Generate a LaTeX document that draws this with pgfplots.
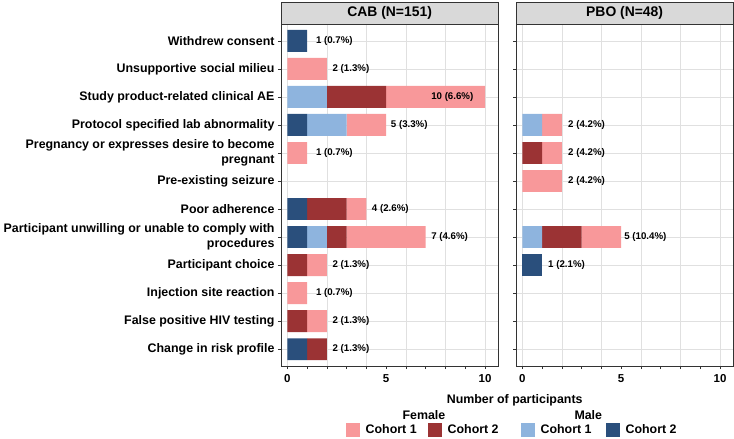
\documentclass[border=0pt]{standalone}
\usepackage{pgfplots}
\usepackage{pgfplotstable}
\pgfplotsset{compat=1.18}
\usepackage{fontspec}
\setmainfont{Liberation Sans}

\definecolor{fcone}{RGB}{248,152,154}
\definecolor{fctwo}{RGB}{155,51,52}
\definecolor{mcone}{RGB}{142,180,222}
\definecolor{mctwo}{RGB}{42,79,124}
\definecolor{framec}{RGB}{51,51,51}
\definecolor{gridc}{RGB}{224,224,224}
\definecolor{stripc}{RGB}{217,217,217}

\newcommand\catfont{\bfseries\fontsize{12.4}{15}\selectfont}
\newcommand\tickfont{\bfseries\fontsize{11.5}{13}\selectfont}
\newcommand\labfont{\bfseries\fontsize{9.7}{11}\selectfont}
\newcommand\stripfont{\bfseries\fontsize{13.9}{16}\selectfont}

% y: 12 = Withdrew consent (top) ... 1 = Change in risk profile (bottom)
\pgfplotstableread{
y  mctwo mcone fctwo fcone
12 1 0 0 0
11 0 0 0 2
10 0 2 3 5
9  1 2 0 2
8  0 0 0 1
7  0 0 0 0
6  1 0 2 1
5  1 1 1 4
4  0 0 1 1
3  0 0 0 1
2  0 0 1 1
1  1 0 1 0
}\cabdata

\pgfplotstableread{
y  mctwo mcone fctwo fcone
12 0 0 0 0
11 0 0 0 0
10 0 0 0 0
9  0 1 0 1
8  0 0 1 1
7  0 0 0 2
6  0 0 0 0
5  0 1 2 2
4  1 0 0 0
3  0 0 0 0
2  0 0 0 0
1  0 0 0 0
}\pbodata

\pgfplotstableread{
x    y  label
1.44 12 {1 (0.7\%)}
2.28 11 {2 (1.3\%)}
7.27 10 {10 (6.6\%)}
5.23 9  {5 (3.3\%)}
1.44 8  {1 (0.7\%)}
4.27 6  {4 (2.6\%)}
7.27 5  {7 (4.6\%)}
2.28 4  {2 (1.3\%)}
1.44 3  {1 (0.7\%)}
2.28 2  {2 (1.3\%)}
2.28 1  {2 (1.3\%)}
}\cablab

\pgfplotstableread{
x    y  label
2.31 9  {2 (4.2\%)}
2.31 8  {2 (4.2\%)}
2.31 7  {2 (4.2\%)}
5.15 5  {5 (10.4\%)}
1.30 4  {1 (2.1\%)}
}\pbolab

\pgfplotsset{
  panelgeom/.style={
    scale only axis, width=217.3pt, height=342pt, anchor=south west,
    xmin=-0.32, xmax=10.67, ymin=0.4, ymax=12.6,
  },
  panel/.style={
    panelgeom,
    xbar stacked, bar width=0.78,
    axis line style={draw=framec, line width=0.9pt},
    ytick={1,...,12}, ytick pos=left, xtick pos=bottom, tick align=outside,
    major tick length=3pt, tick style={draw=framec, line width=0.6pt},
    xtick={0,...,10}, xticklabels={0,,,,,5,,,,,10},
    extra x ticks={0,2,...,10}, extra x tick labels={},
    extra x tick style={grid=major, major tick length=0pt},
    ymajorgrids, grid style={draw=gridc, line width=0.5pt},
    xticklabel style={font=\tickfont, text=black, yshift=-2pt},
    yticklabel style={font=\catfont, align=right, text=black},
  },
  labels/.style={
    panelgeom, hide axis, clip=false,
  },
  barlabels/.style={
    draw=none, mark=none, forget plot, nodes near coords,
    point meta=explicit symbolic, nodes near coords align={anchor=west},
    every node near coord/.append style={inner sep=0pt, font=\labfont, text=black},
  },
}

\begin{document}
\begin{tikzpicture}
\useasboundingbox (0,0) rectangle (734pt,-439pt);

% ---- CAB panel
\begin{axis}[panel, name=cab, at={(281pt,-366pt)},
  yticklabels={Change in risk profile, False positive HIV testing,
    Injection site reaction, Participant choice,
    {Participant unwilling or unable to comply with\\procedures},
    Poor adherence, Pre-existing seizure,
    {Pregnancy or expresses desire to become\\pregnant},
    Protocol specified lab abnormality, Study product-related clinical AE,
    Unsupportive social milieu, Withdrew consent}]
  \addplot[fill=mctwo, draw=none] table[x=mctwo, y=y] {\cabdata};
  \addplot[fill=mcone, draw=none] table[x=mcone, y=y] {\cabdata};
  \addplot[fill=fctwo, draw=none] table[x=fctwo, y=y] {\cabdata};
  \addplot[fill=fcone, draw=none] table[x=fcone, y=y] {\cabdata};
\end{axis}

\begin{axis}[labels, at={(281pt,-366pt)},
  legend columns=4,
  legend style={draw=none, fill=none, inner sep=0pt, outer sep=0pt,
    at={(0.2977,-0.1871)}, anchor=west,
    nodes={inner sep=0pt, font=\catfont},
    /tikz/every odd column/.append style={column sep=5.5pt},
    /tikz/column 2/.style={column sep=11pt},
    /tikz/column 4/.style={column sep=22pt},
    /tikz/column 6/.style={column sep=14pt}},
  legend image code/.code={\fill[#1] (0pt,-7.2pt) rectangle (14.5pt,7.2pt);}]
  \addlegendimage{fill=fcone, draw=none}\addlegendentry{Cohort 1}
  \addlegendimage{fill=fctwo, draw=none}\addlegendentry{Cohort 2}
  \addlegendimage{fill=mcone, draw=none}\addlegendentry{Cohort 1}
  \addlegendimage{fill=mctwo, draw=none}\addlegendentry{Cohort 2}
  \addplot[barlabels] table[x=x, y=y, meta=label] {\cablab};
\end{axis}

\draw[framec, line width=0.9pt, fill=stripc] (cab.north west) rectangle ([yshift=22pt]cab.north east);
\node[font=\stripfont] at ([yshift=11pt]cab.north) {CAB (N=151)};

% ---- PBO panel
\begin{axis}[panel, name=pbo, at={(516pt,-366pt)}, yticklabels={}]
  \addplot[fill=mctwo, draw=none] table[x=mctwo, y=y] {\pbodata};
  \addplot[fill=mcone, draw=none] table[x=mcone, y=y] {\pbodata};
  \addplot[fill=fctwo, draw=none] table[x=fctwo, y=y] {\pbodata};
  \addplot[fill=fcone, draw=none] table[x=fcone, y=y] {\pbodata};
\end{axis}

\begin{axis}[labels, at={(516pt,-366pt)}]
  \addplot[barlabels] table[x=x, y=y, meta=label] {\pbolab};
\end{axis}

\draw[framec, line width=0.9pt, fill=stripc] (pbo.north west) rectangle ([yshift=22pt]pbo.north east);
\node[font=\stripfont] at ([yshift=11pt]pbo.north) {PBO (N=48)};

% ---- shared x label and legend titles
\node[font=\catfont] at (514.7pt,-400pt) {Number of participants};
\node[font=\catfont] at (423.9pt,-415pt) {Female};
\node[font=\catfont] at (588.3pt,-415pt) {Male};
\end{tikzpicture}
\end{document}
